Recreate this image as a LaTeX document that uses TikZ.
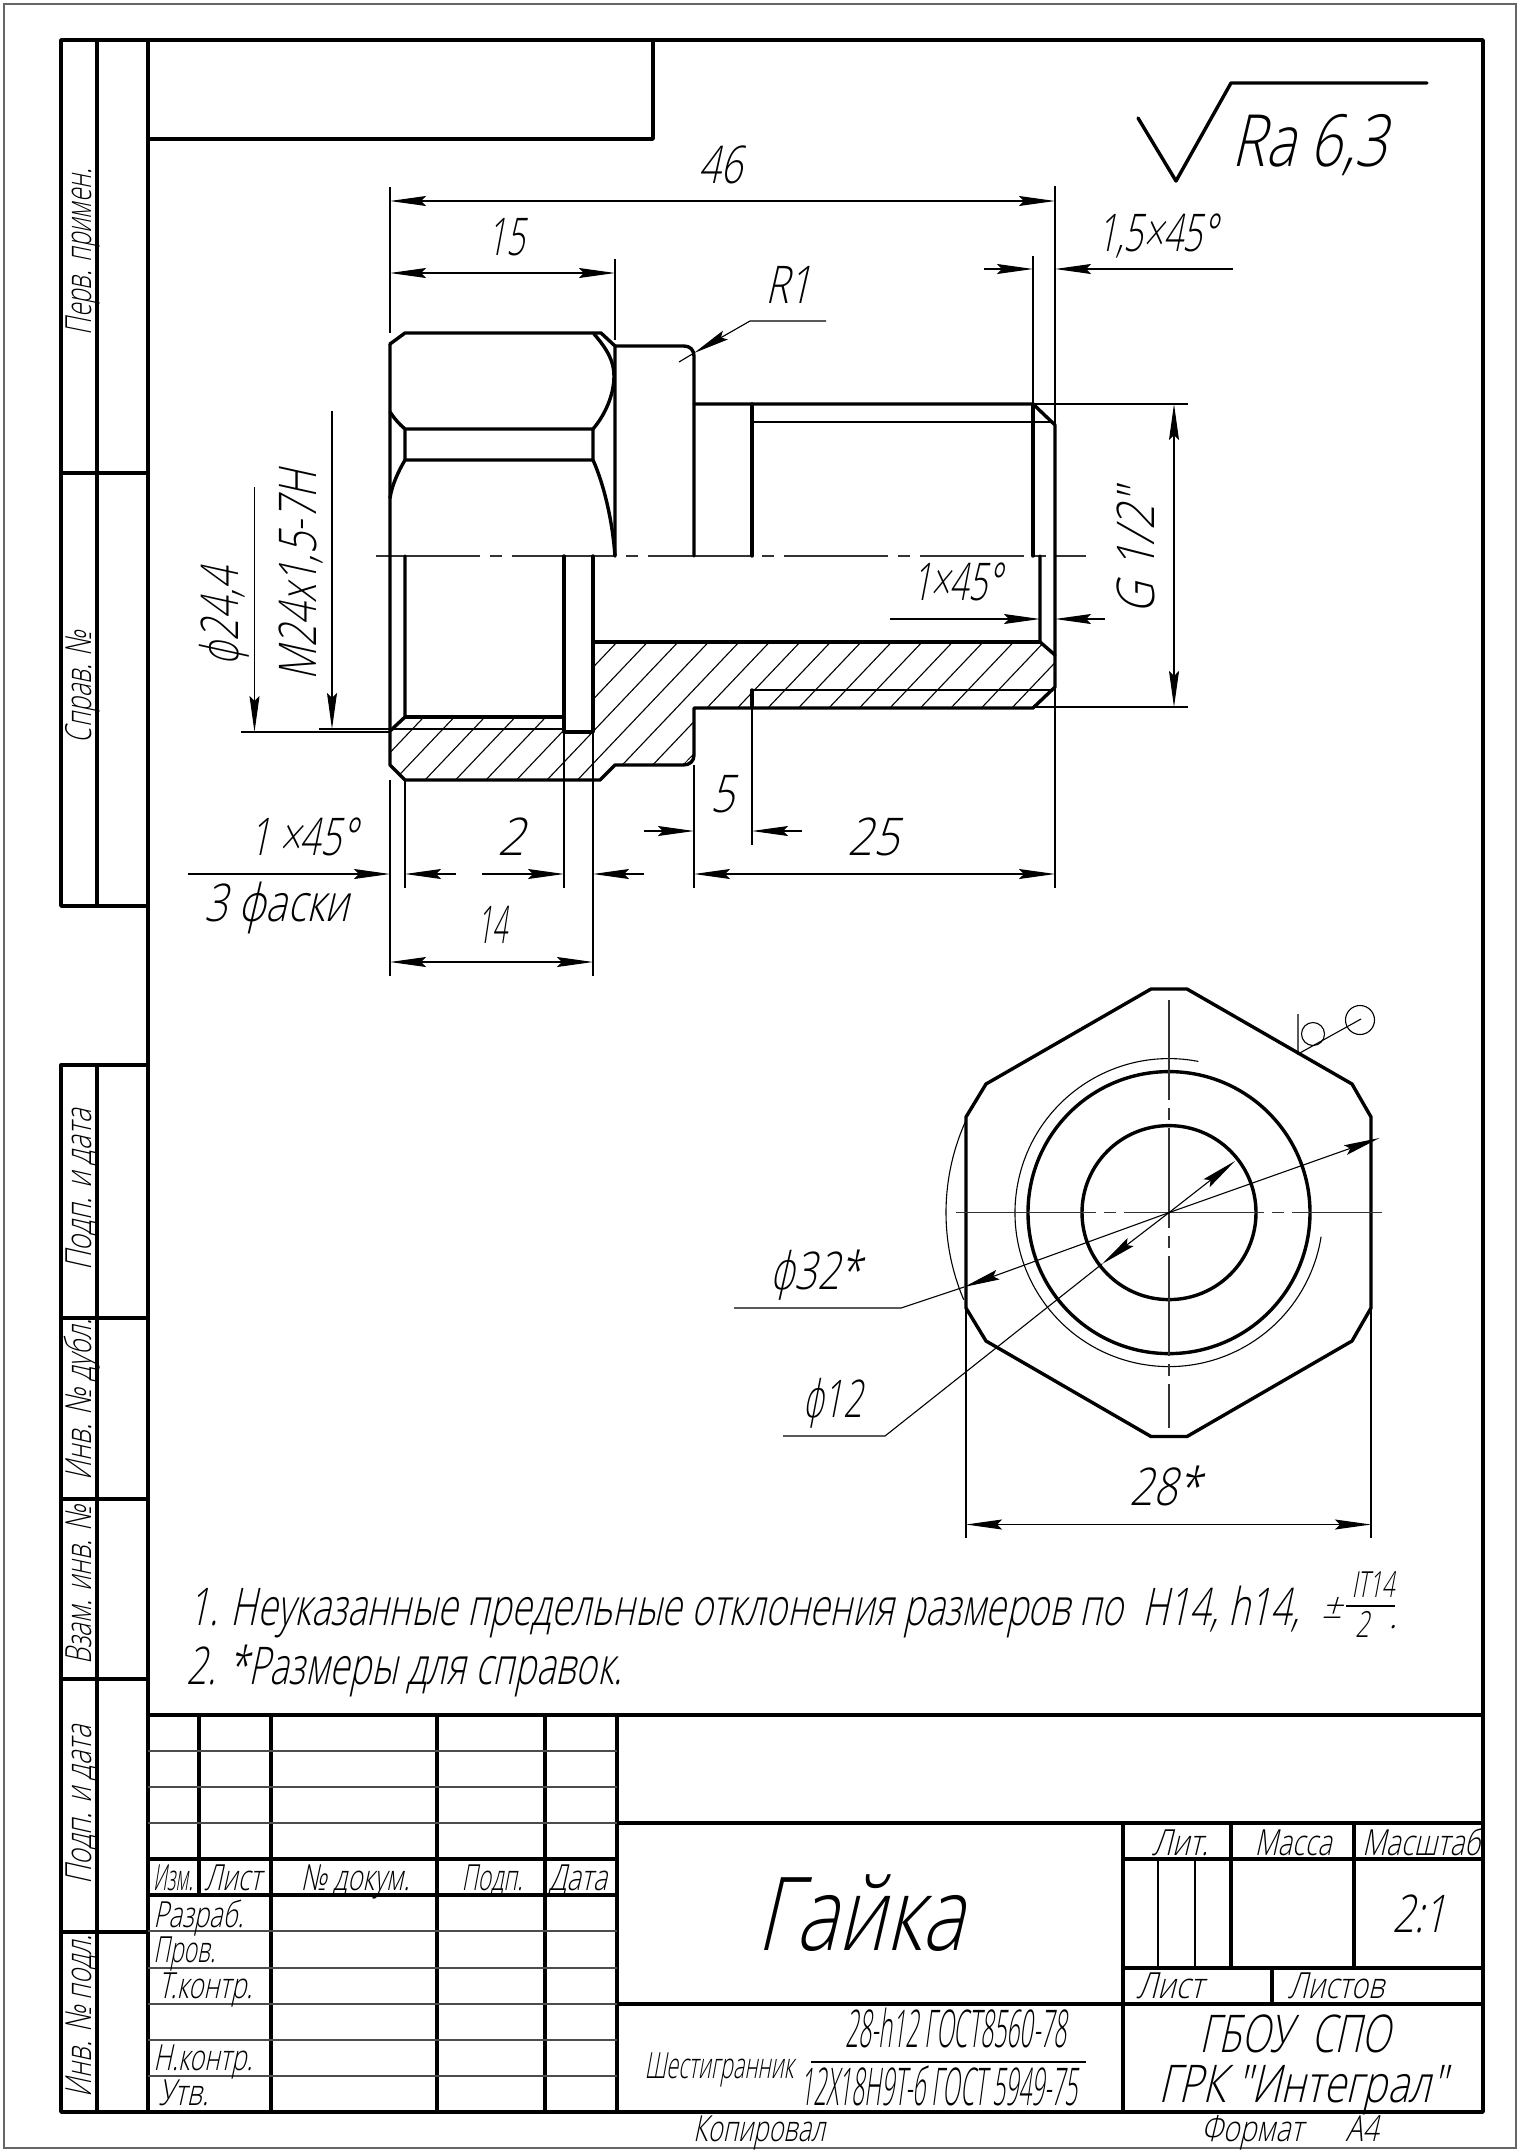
\documentclass[tikz,border=0pt]{standalone}
\usepackage{fontspec}
\usepackage{graphicx}
\usetikzlibrary{arrows.meta}
\newfontfamily\gost{Open Sans Light}[FakeSlant=0.3]
\newfontfamily\gostsym{DejaVu Sans ExtraLight}[FakeSlant=0.3]
\newlength\pxu
\setlength\pxu{0.5pt}
\newcommand{\fitw}[2]{\resizebox{#1\pxu}{\height}{#2}}
\newcommand{\diam}{{\gostsym ϕ}}
\tikzset{
  >={Stealth[length=18pt,width=5pt,inset=2.5pt]},
  contour/.style={line width=1.7pt, line cap=round, line join=round},
  fine/.style={line width=0.55pt},
  dimarrow/.style={fine, <->},
  leadarrow/.style={fine, ->},
  axisline/.style={fine, black!80, dash pattern=on 52pt off 5pt on 6pt off 5pt},
  lbl/.style={inner sep=0pt, anchor=base},
  dimtext/.style={lbl, font=\gost\fontsize{26}{30}\selectfont},
  blocktext/.style={lbl, font=\gost\fontsize{18}{22}\selectfont},
}
\begin{document}
\begin{tikzpicture}[x=0.5pt, y=-0.5pt]
  \useasboundingbox (0,0) rectangle (1523,2152);
  \draw [fine, black!60] (4,4) rectangle (1516,2148);
  \draw [contour] (148,906)--(61,906)--(61,40)--(1483,40)--(1483,2112)--(61,2112)--(61,1065)--(148,1065);
  \draw [contour] (97,40)--(97,906);
  \draw [contour] (61,473)--(148,473);
  \draw [contour] (148,40)--(148,2112);
  \draw [contour] (97,1065)--(97,2112);
  \foreach \y in {1318,1499,1679,1932}
    \draw [contour] (61,\y)--(148,\y);
  \draw [contour] (148,139)--(653,139)--(653,40);

  \foreach \n/\y/\w/\t in {perv/252/166/{Перв. примен.}, sprav/687/112/{Справ. №}, poda/1190/161/{Подп. и дата}, dubl/1400/161/{Инв. № дубл.}, vzam/1585/159/{Взам. инв. №}, podb/1805/159/{Подп. и дата}, podl/2016/162/{Инв. № подл.}}
    \node [blocktext, rotate=90] (\n) at (91,\y) {\fitw{\w}{\t}};

  \draw [contour] (148,1715)--(1483,1715);
  \draw [contour] (617,1823)--(1483,1823);
  \draw [contour] (617,2004)--(1483,2004);
  \draw [contour] (148,1859)--(617,1859);
  \draw [contour] (148,1895)--(617,1895);
  \foreach \x in {271,437,545,617}
    \draw [contour] (\x,1715)--(\x,2112);
  \draw [contour] (199,1715)--(199,1895);
  \foreach \y in {1751,1787,1823,1931,1968,2004,2040,2076}
    \draw [fine, black!70] (148,\y)--(617,\y);
  \draw [contour] (1123,1823)--(1123,2112);
  \draw [contour] (1231,1823)--(1231,1968);
  \draw [contour] (1354,1823)--(1354,1968);
  \draw [contour] (1123,1859)--(1483,1859);
  \draw [contour] (1123,1968)--(1483,1968);
  \draw [contour] (1272,1968)--(1272,2004);
  \draw [fine] (1158,1859)--(1158,1968);
  \draw [fine] (1195,1859)--(1195,1968);
  \draw [fine] (811,2062)--(1086,2062);

  \foreach \n/\x/\w/\t in {izm/173/40/{Изм.}, list/233/57/{Лист}, nomer/355/109/{№ докум.}, podp/492/61/{Подп.}, data/578/58/{Дата}}
    \node [blocktext] (\n) at (\x,1890) {\fitw{\w}{\t}};
  \foreach \n/\x/\y/\w/\t in {razr/153/1927/90/{Разраб.}, prov/153/1962/62/{Пров.}, tkon/158/1998/94/{Т.контр.}, nkon/153/2070/99/{Н.контр.}, utv/158/2105/50/{Утв.}}
    \node [blocktext, anchor=base west] (\n) at (\x,\y) {\fitw{\w}{\t}};

  \node [lbl, font=\gost\fontsize{51}{56}\selectfont] (title) at (860,1950) {\fitw{208}{Гайка}};
  \foreach \n/\x/\y/\w/\t in {lit/1180/1855/56/{Лит.}, massa/1293/1855/77/{Масса}, masht/1421/1855/118/{Масштаб}, lista/1170/1998/67/{Лист}, listb/1336/1998/96/{Листов}, kopir/759/2141/132/{Копировал}, format/1252/2141/102/{Формат}, aform/1362/2141/33/{А4}, shest/719/2078/149/{Шестигранник}}
    \node [blocktext] (\n) at (\x,\y) {\fitw{\w}{\t}};
  \foreach \n/\x/\y/\w/\t in {scalet/1419/1932/54/{2:1}, gboy/1295/2052/191/{ГБОУ\ \ СПО}, grk/1302/2102/287/{ГРК "Интеграл"}, gosta/956/2047/222/{28-h12 ГОСТ8560-78}, gostb/939/2105/278/{12Х18Н9Т-б ГОСТ 5949-75}}
    \node [dimtext] (\n) at (\x,\y) {\fitw{\w}{\t}};

  \draw [line width=1.7pt, line join=round, line cap=round] (1138,118)--(1176,181)--(1231,83)--(1427,83);
  \node [lbl, font=\gost\fontsize{36}{40}\selectfont] (rough) at (1309,166) {\fitw{155}{Ra 6,3}};

  \begin{scope}
    \clip (390,765)--(405,780)--(600,780)--(615,765)--(683,765)--(694,755)--(694,708)--(1033,708)--(1055,687)--(1055,655)--(1040,642)--(593,642)--(593,732)--(564,732)--(564,717)--(405,717)--(390,731)--cycle;
    \foreach \k in {-3,...,20}
      \draw [fine] ({425+30.5*\k},780)--({425+30.5*\k+152},620);
  \end{scope}

  \draw [axisline] (376,556)--(1086,556);
  \draw [contour] (390,344)--(405,333)--(601,333)--(615,346)--(615,556);
  \draw [contour] (594,334) .. controls (608,350) and (614,362) .. (614,376) .. controls (614,395) and (605,415) .. (593,429);
  \draw [contour] (390,344)--(390,765)--(405,780)--(600,780)--(615,765)--(683,765) .. controls (690,765) and (694,761) .. (694,755)--(694,708)--(1033,708)--(1055,687)--(1055,425)--(1033,404)--(694,404);
  \draw [contour] (390,412) .. controls (394,418) and (399,424) .. (405,429)--(593,429)--(593,460)--(405,460)--(405,429);
  \draw [contour] (405,460) .. controls (398,472) and (392,485) .. (390,498);
  \draw [contour] (593,460) .. controls (602,480) and (612,515) .. (615,556);
  \draw [contour] (615,346)--(684,346) .. controls (690,346) and (694,350) .. (694,356)--(694,556);
  \draw [contour] (752,404)--(752,556);
  \draw [contour] (1033,404)--(1033,556);
  \draw [contour] (1040,556)--(1040,642)--(1055,655);
  \draw [contour] (593,642)--(1040,642);
  \draw [contour] (405,556)--(405,717)--(390,731);
  \draw [contour] (405,717)--(564,717);
  \draw [contour] (564,556)--(564,732)--(593,732)--(593,556);
  \draw [contour] (752,690)--(752,708);
  \draw [fine] (752,422)--(1050,422);
  \draw [fine] (752,690)--(1050,690);

  \draw [fine] (390,187)--(390,333);
  \draw [fine] (1055,186)--(1055,425);
  \draw [fine] (615,259)--(615,340);
  \draw [dimarrow] (390,201)--(1055,201);
  \draw [dimarrow] (390,273)--(615,273);
  \node [dimtext] (len) at (720,183) {\fitw{44}{46}};
  \node [dimtext] (hexlen) at (506,255) {\fitw{37}{15}};
  \draw [fine] (679,362)--(694,353);
  \draw [leadarrow] (826,321)--(750,321)--(694,353);
  \node [dimtext] (rad) at (788,303) {\fitw{46}{R1}};
  \draw [fine] (1033,256)--(1033,404);
  \draw [leadarrow] (984,269)--(1033,269);
  \draw [leadarrow] (1233,269)--(1055,269);
  \node [dimtext] (chama) at (1157,251) {\fitw{120}{1,5×45°}};
  \draw [fine] (1033,404)--(1188,404);
  \draw [fine] (1033,707)--(1188,707);
  \draw [dimarrow] (1174,404)--(1174,707);
  \node [dimtext, rotate=90] (pipe) at (1154,552) {\fitw{124}{G 1/2"}};
  \draw [leadarrow] (890,619)--(1040,619);
  \draw [leadarrow] (1105,619)--(1055,619);
  \node [dimtext] (chamb) at (957,600) {\fitw{90}{1×45°}};

  \draw [fine] (241,732)--(390,732);
  \draw [fine] (319,729)--(564,729);
  \draw [leadarrow] (254.5,487)--(254.5,732);
  \draw [leadarrow] (332,411)--(332,729);
  \node [dimtext, rotate=90] (bore) at (238,617) {\fitw{98}{\diam24,4}};
  \node [dimtext, rotate=90] (thread) at (316,576) {\fitw{209}{М24х1,5-7Н}};

  \draw [fine] (390,780)--(390,976);
  \draw [fine] (593,732)--(593,976);
  \draw [fine] (405,780)--(405,888);
  \draw [fine] (564,732)--(564,888);
  \draw [fine] (694,765)--(694,888);
  \draw [fine] (1055,687)--(1055,888);
  \draw [fine] (752,708)--(752,845);
  \draw [leadarrow] (188,874)--(390,874);
  \draw [leadarrow] (456,874)--(405,874);
  \draw [leadarrow] (482,874)--(564,874);
  \draw [leadarrow] (644,874)--(593,874);
  \draw [dimarrow] (694,874)--(1055,874);
  \draw [leadarrow] (644,831)--(694,831);
  \draw [leadarrow] (802,831)--(752,831);
  \draw [dimarrow] (390,962)--(593,962);
  \node [dimtext] (chamc) at (303,855) {\fitw{108}{1 ×45°}};
  \node [dimtext] (fask) at (277,921) {\fitw{144}{3 фаски}};
  \node [dimtext] (groove) at (511,855) {\fitw{27}{2}};
  \node [dimtext] (depth) at (492,943) {\fitw{30}{14}};
  \node [dimtext] (runout) at (722,812) {\fitw{24}{5}};
  \node [dimtext] (thrlen) at (873,855) {\fitw{51}{25}};

  \draw [contour] (1151,989)--(1187,989)--(1352,1084)--(1371,1117)--(1371,1308)--(1352,1341)--(1187,1436.5)--(1151,1436.5)--(986,1341)--(966,1308)--(966,1117)--(986,1084)--cycle;
  \draw [contour] (1169,1212.6) circle (141);
  \draw [contour] (1169,1212.6) circle (87);
  \draw [fine] (1169,1212.6) ++(-79:154) arc (-79:-351:154);
  \draw [fine] (1169,1212.6) ++(-155:223) arc (-155:-203:223);
  \draw [fine, black!80, dash pattern=on 70pt off 4pt on 6pt off 4pt] (956,1212.6)--(1382,1212.6);
  \draw [fine, black!80, dash pattern=on 50pt off 4pt on 6pt off 4pt] (1169,1000)--(1169,1428);
  \draw [fine] (1298,1014)--(1298,1054)--(1361,1019);
  \draw [fine] (1313,1034) circle (11.5);
  \draw [fine] (1360,1020) circle (14.5);
  \draw [leadarrow] (1169,1212.6)--(1379.5,1138);
  \draw [leadarrow] (1169,1212.6)--(964,1287);
  \draw [fine] (964,1287)--(901,1308)--(734,1308);
  \draw [leadarrow] (1169,1212.6)--(1235,1161);
  \draw [leadarrow] (1169,1212.6)--(1102,1264);
  \draw [fine] (1102,1264)--(885,1436)--(783,1436);
  \draw [fine] (966,1308)--(966,1538);
  \draw [fine] (1371,1308)--(1371,1538);
  \draw [dimarrow] (966,1524.5)--(1371,1524.5);
  \node [dimtext] (outer) at (815,1289) {\fitw{92}{\diam32*}};
  \node [dimtext] (inner) at (832,1417) {\fitw{60}{\diam12}};
  \node [dimtext] (flats) at (1165,1505) {\fitw{71}{28*}};

  \node [dimtext, anchor=base west] (notea) at (188,1625) {\fitw{1111}{1. Неуказанные предельные отклонения размеров по\ \ Н14, h14,}};
  \node [dimtext, anchor=base west] (noteb) at (186,1684) {\fitw{436}{2. *Размеры для справок.}};
  \node [blocktext] (plusm) at (1332,1618) {±};
  \node [blocktext] (fracup) at (1373,1597) {\fitw{43}{IT14}};
  \node [blocktext] (fracdn) at (1362,1637) {\fitw{14}{2}};
  \node [blocktext] (fracpt) at (1393,1628) {.};
  \draw [fine] (1346,1606)--(1395,1606);
\end{tikzpicture}
\end{document}
